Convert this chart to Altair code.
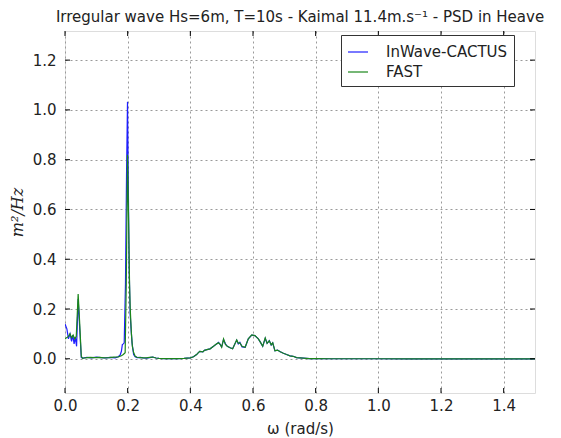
import altair as alt
import pandas as pd

# ---- data ----
w_cactus = [0.000, 0.006, 0.011, 0.016, 0.021, 0.025, 0.029, 0.033, 0.037, 0.042, 0.047, 0.052,
            0.058, 0.070, 0.085, 0.100, 0.115, 0.130, 0.145, 0.160, 0.170, 0.176, 0.180, 0.183,
            0.186, 0.189, 0.193, 0.1965, 0.1995, 0.202, 0.205, 0.208, 0.211, 0.214, 0.219, 0.224,
            0.230, 0.240, 0.250, 0.260, 0.270, 0.280, 0.290, 0.300, 0.320, 0.340, 0.360, 0.380,
            0.400, 0.410, 0.420, 0.425, 0.430, 0.440, 0.445, 0.453, 0.463, 0.474, 0.484, 0.490,
            0.495, 0.500, 0.506, 0.512, 0.518, 0.527, 0.535, 0.548, 0.553, 0.558, 0.565, 0.575,
            0.585, 0.596, 0.606, 0.617, 0.623, 0.631, 0.639, 0.645, 0.652, 0.658, 0.663, 0.670,
            0.678, 0.687, 0.697, 0.707, 0.718, 0.728, 0.739, 0.750, 0.760, 0.780, 0.800, 0.850,
            0.900, 1.000, 1.100, 1.200, 1.300, 1.400, 1.500]
v_cactus = [0.140, 0.120, 0.080, 0.100, 0.070, 0.095, 0.060, 0.085, 0.050, 0.240, 0.120, 0.005,
            0.003, 0.006, 0.004, 0.007, 0.005, 0.004, 0.006, 0.004, 0.008, 0.015, 0.030, 0.057,
            0.060, 0.064, 0.300, 0.750, 1.033, 0.700, 0.350, 0.180, 0.117, 0.064, 0.017, 0.008,
            0.005, 0.006, 0.004, 0.003, 0.005, 0.007, 0.003, 0.002, 0.001, 0.001, 0.001, 0.002,
            0.004, 0.008, 0.017, 0.024, 0.030, 0.028, 0.034, 0.037, 0.040, 0.050, 0.060, 0.066,
            0.058, 0.048, 0.077, 0.060, 0.050, 0.044, 0.040, 0.075, 0.060, 0.066, 0.048, 0.046,
            0.080, 0.095, 0.093, 0.080, 0.068, 0.050, 0.082, 0.062, 0.073, 0.055, 0.064, 0.032,
            0.035, 0.028, 0.022, 0.017, 0.012, 0.010, 0.005, 0.004, 0.003, 0.001, 0.0005, 0.0002,
            0.0001, 0.0001, 0.0, 0.0, 0.0, 0.0, 0.0]

w_fast = [0.000, 0.006, 0.011, 0.016, 0.021, 0.026, 0.031, 0.036, 0.042, 0.047, 0.052, 0.056,
          0.065, 0.080, 0.095, 0.110, 0.125, 0.140, 0.155, 0.170, 0.180, 0.186, 0.192, 0.1955,
          0.1995, 0.203, 0.206, 0.208, 0.212, 0.215, 0.219, 0.224, 0.230, 0.240, 0.250, 0.260,
          0.270, 0.280, 0.290, 0.300, 0.320, 0.340, 0.360, 0.380,
          0.400, 0.410, 0.420, 0.425, 0.430, 0.440, 0.445, 0.453, 0.463, 0.474, 0.484, 0.490,
          0.495, 0.500, 0.506, 0.512, 0.518, 0.527, 0.535, 0.548, 0.553, 0.558, 0.565, 0.575,
          0.585, 0.596, 0.606, 0.617, 0.623, 0.631, 0.639, 0.645, 0.652, 0.658, 0.663, 0.670,
          0.678, 0.687, 0.697, 0.707, 0.718, 0.728, 0.739, 0.750, 0.760, 0.780, 0.800, 0.850,
          0.900, 1.000, 1.100, 1.200, 1.300, 1.400, 1.500]
v_fast = [0.080, 0.085, 0.090, 0.100, 0.085, 0.095, 0.080, 0.090, 0.260, 0.140, 0.010, 0.002,
          0.004, 0.006, 0.005, 0.006, 0.004, 0.005, 0.007, 0.008, 0.012, 0.017, 0.024, 0.300,
          0.820, 0.550, 0.300, 0.205, 0.100, 0.050, 0.025, 0.010, 0.006, 0.005, 0.004, 0.004,
          0.006, 0.007, 0.003, 0.002, 0.001, 0.001, 0.001, 0.002,
          0.004, 0.008, 0.017, 0.024, 0.030, 0.028, 0.034, 0.037, 0.040, 0.050, 0.060, 0.064,
          0.058, 0.046, 0.080, 0.058, 0.050, 0.044, 0.040, 0.076, 0.062, 0.064, 0.050, 0.046,
          0.080, 0.096, 0.093, 0.080, 0.068, 0.050, 0.084, 0.062, 0.072, 0.056, 0.064, 0.032,
          0.035, 0.028, 0.022, 0.017, 0.012, 0.010, 0.005, 0.004, 0.003, 0.001, 0.0005, 0.0002,
          0.0001, 0.0001, 0.0, 0.0, 0.0, 0.0, 0.0]

series_names = ["InWave-CACTUS", "FAST"]
series_colors = ["#1f1fff", "#1a861a"]
x_ticks = [0.0, 0.2, 0.4, 0.6, 0.8, 1.0, 1.2, 1.4]
y_ticks = [0.0, 0.2, 0.4, 0.6, 0.8, 1.0, 1.2]

df_c = pd.DataFrame({"w": w_cactus, "v": v_cactus, "series": series_names[0]})
df_f = pd.DataFrame({"w": w_fast, "v": v_fast, "series": series_names[1]})
df_xt = pd.DataFrame({"w": x_ticks})
df_yt = pd.DataFrame({"v": y_ticks})

W, H = 470, 362
FONT = "DejaVu Sans"

xs = alt.Scale(domain=[0, 1.5], nice=False, zero=False, padding=0)
ys = alt.Scale(domain=[-0.1375, 1.317], nice=False, zero=False, padding=0)
cs = alt.Scale(domain=series_names, range=series_colors)

x_axis = alt.Axis(values=x_ticks, format=".1f", title="ω (rad/s)", grid=True,
                  gridDash=[2, 3], gridColor="#9a9a9a", gridWidth=1, ticks=False,
                  domain=False, labelPadding=5, labelFontSize=15, labelFont=FONT,
                  labelFlush=False, labelOverlap=False,
                  labelColor="#222222", titleFont=FONT, titleFontSize=15,
                  titleFontWeight="normal", titleColor="#222222", titlePadding=8)
y_axis = alt.Axis(values=y_ticks, format=".1f", title="m²/Hz", grid=True,
                  gridDash=[2, 3], gridColor="#9a9a9a", gridWidth=1, ticks=False,
                  domain=False, labelPadding=9, labelFontSize=15, labelFont=FONT,
                  labelFlush=False, labelOverlap=False,
                  labelColor="#222222", titleFont="DejaVu Serif", titleFontSize=16,
                  titleFontStyle="italic", titleFontWeight="normal", titleColor="#222222",
                  titlePadding=7)

legend = alt.Legend(orient="none", legendX=276, legendY=4, title=None,
                    symbolType="stroke", symbolSize=400, symbolStrokeWidth=1.2,
                    labelFontSize=15, labelFont=FONT, labelColor="#222222",
                    padding=6, strokeColor="#333333", fillColor="white",
                    labelOffset=17, rowPadding=1, cornerRadius=0)

line_c = alt.Chart(df_c).mark_line(strokeWidth=1.2, clip=True).encode(
    x=alt.X("w:Q", scale=xs, axis=x_axis),
    y=alt.Y("v:Q", scale=ys, axis=y_axis),
    color=alt.Color("series:N", scale=cs, legend=legend),
)
line_f = alt.Chart(df_f).mark_line(strokeWidth=1.2, clip=True).encode(
    x=alt.X("w:Q", scale=xs),
    y=alt.Y("v:Q", scale=ys),
    color=alt.Color("series:N", scale=cs, legend=legend),
)

tick_bottom = alt.Chart(df_xt).mark_rule(color="black", strokeWidth=1).encode(
    x=alt.X("w:Q", scale=xs), y=alt.value(H), y2=alt.value(H - 5))
tick_top = alt.Chart(df_xt).mark_rule(color="black", strokeWidth=1).encode(
    x=alt.X("w:Q", scale=xs), y=alt.value(0), y2=alt.value(5))
tick_left = alt.Chart(df_yt).mark_rule(color="black", strokeWidth=1).encode(
    y=alt.Y("v:Q", scale=ys), x=alt.value(0), x2=alt.value(5))
tick_right = alt.Chart(df_yt).mark_rule(color="black", strokeWidth=1).encode(
    y=alt.Y("v:Q", scale=ys), x=alt.value(W - 5), x2=alt.value(W))

chart = alt.layer(line_c, line_f, tick_bottom, tick_top, tick_left, tick_right).properties(
    width=W, height=H,
    title=alt.TitleParams(
        "Irregular wave Hs=6m, T=10s - Kaimal 11.4m.s⁻¹ - PSD in Heave",
        font=FONT, fontSize=15, fontWeight="normal", color="#222222",
        anchor="middle", offset=6),
    autosize=alt.AutoSizeParams(type="none"),
    padding={"left": 57, "top": 23, "right": 18, "bottom": 45},
).configure_view(stroke="#333333", strokeWidth=1.2).configure(background="white")

chart.save("out.html", embed_options={"renderer": "svg", "actions": False})
